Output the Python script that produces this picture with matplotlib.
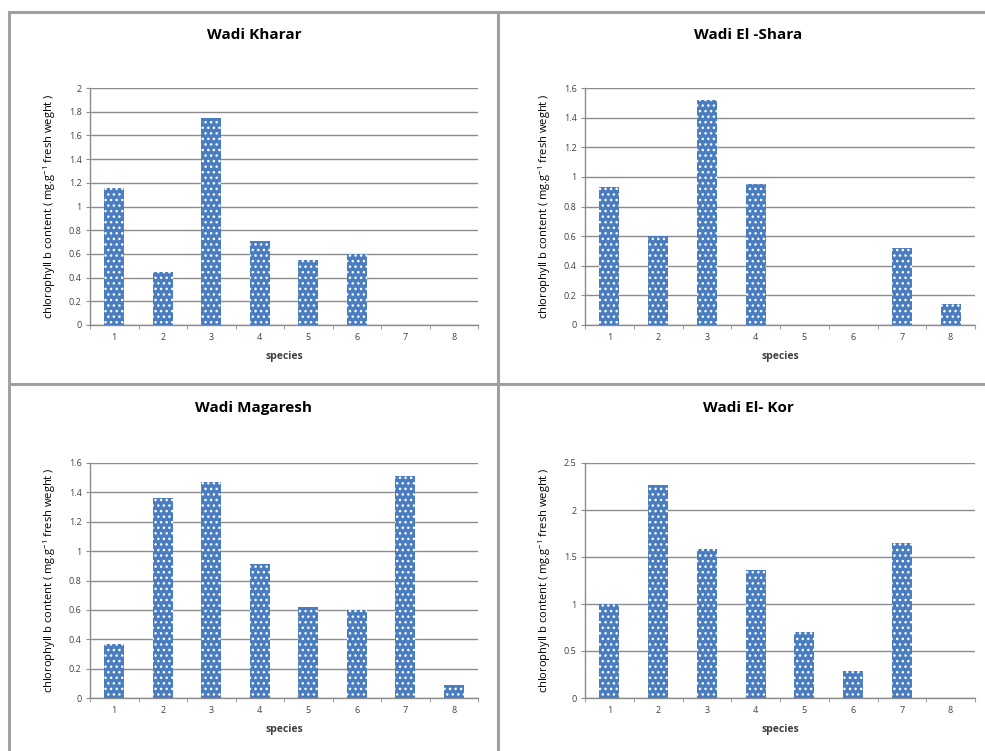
import matplotlib
matplotlib.use("Agg")
import matplotlib.pyplot as plt
from matplotlib.lines import Line2D

plt.rcParams["hatch.linewidth"] = 1.0
plt.rcParams["font.family"] = ["Open Sans", "DejaVu Sans"]

species = [1, 2, 3, 4, 5, 6, 7, 8]

kharar = [1.16, 0.45, 1.75, 0.71, 0.55, 0.60, 0, 0]
shara = [0.93, 0.60, 1.52, 0.95, 0, 0, 0.52, 0.14]
magaresh = [0.37, 1.36, 1.47, 0.91, 0.62, 0.60, 1.51, 0.09]
kor = [1.00, 2.27, 1.58, 1.36, 0.70, 0.29, 1.65, 0]

titles = ["Wadi Kharar", "Wadi El -Shara", "Wadi Magaresh", "Wadi El- Kor"]
series = [kharar, shara, magaresh, kor]
ymax = [2.0, 1.6, 1.6, 2.5]
ystep = [0.2, 0.2, 0.2, 0.5]

BAR = "#4a7dc0"
GRID = "#8c8c8c"
TXT = "#404040"

W, H = 985, 751
fig = plt.figure(figsize=(W / 100, H / 100), dpi=100)

# panel frames (cell borders)
BORDER = "#a0a0a0"
for x0, y0, x1, y1 in [(9, 12, 985, 12), (9, 12, 9, 751), (498, 12, 498, 751),
                       (9, 384, 985, 384)]:
    fig.add_artist(Line2D([x0 / W, x1 / W], [1 - y0 / H, 1 - y1 / H],
                          color=BORDER, lw=2.2, transform=fig.transFigure))

# axes boxes in pixels: left, top, right, bottom
boxes = [(90, 88, 478, 325), (585, 88, 975, 325),
         (90, 463, 478, 698), (585, 463, 975, 698)]
title_y = [35, 35, 408, 408]
title_x = [254, 748, 254, 748]

for i, (l, t, r, b) in enumerate(boxes):
    ax = fig.add_axes([l / W, 1 - b / H, (r - l) / W, (b - t) / H])
    ax.bar(species, series[i], width=0.41, color=BAR, edgecolor="white",
           hatch="...", linewidth=0, zorder=3)
    ax.set_xlim(0.5, 8.5)
    ax.set_ylim(0, ymax[i])
    n = int(round(ymax[i] / ystep[i]))
    ticks = [round(k * ystep[i], 2) for k in range(n + 1)]
    ax.set_yticks(ticks)
    ax.set_yticklabels([f"{v:g}" for v in ticks], fontsize=6.5, color=TXT)
    ax.set_xticks(species)
    ax.set_xticklabels([str(s) for s in species], fontsize=6.5, color=TXT)
    ax.set_xticks([k + 0.5 for k in range(0, 9)], minor=True)
    ax.tick_params(axis="x", which="major", length=0, pad=6)
    ax.tick_params(axis="x", which="minor", length=3, color=GRID, direction="out")
    ax.tick_params(axis="y", length=3, color=GRID, direction="out", pad=3)
    ax.grid(axis="y", color=GRID, lw=1.0, zorder=0)
    for s in ["top", "right"]:
        ax.spines[s].set_visible(False)
    for s in ["left", "bottom"]:
        ax.spines[s].set_color(GRID)
        ax.spines[s].set_linewidth(1.0)
    ax.set_xlabel("species", fontsize=7.5, fontweight="bold", color=TXT, labelpad=6)
    ax.set_ylabel(r"chlorophyll b content ( mg.g$^{\mathregular{-1}}$ fresh weght )",
                  fontsize=8, color="black", labelpad=8)
    fig.text(title_x[i] / W, 1 - title_y[i] / H, titles[i], fontsize=11,
             fontweight="bold", ha="center", va="center", color="black")

fig.savefig("out.png", dpi=100, facecolor="white")
